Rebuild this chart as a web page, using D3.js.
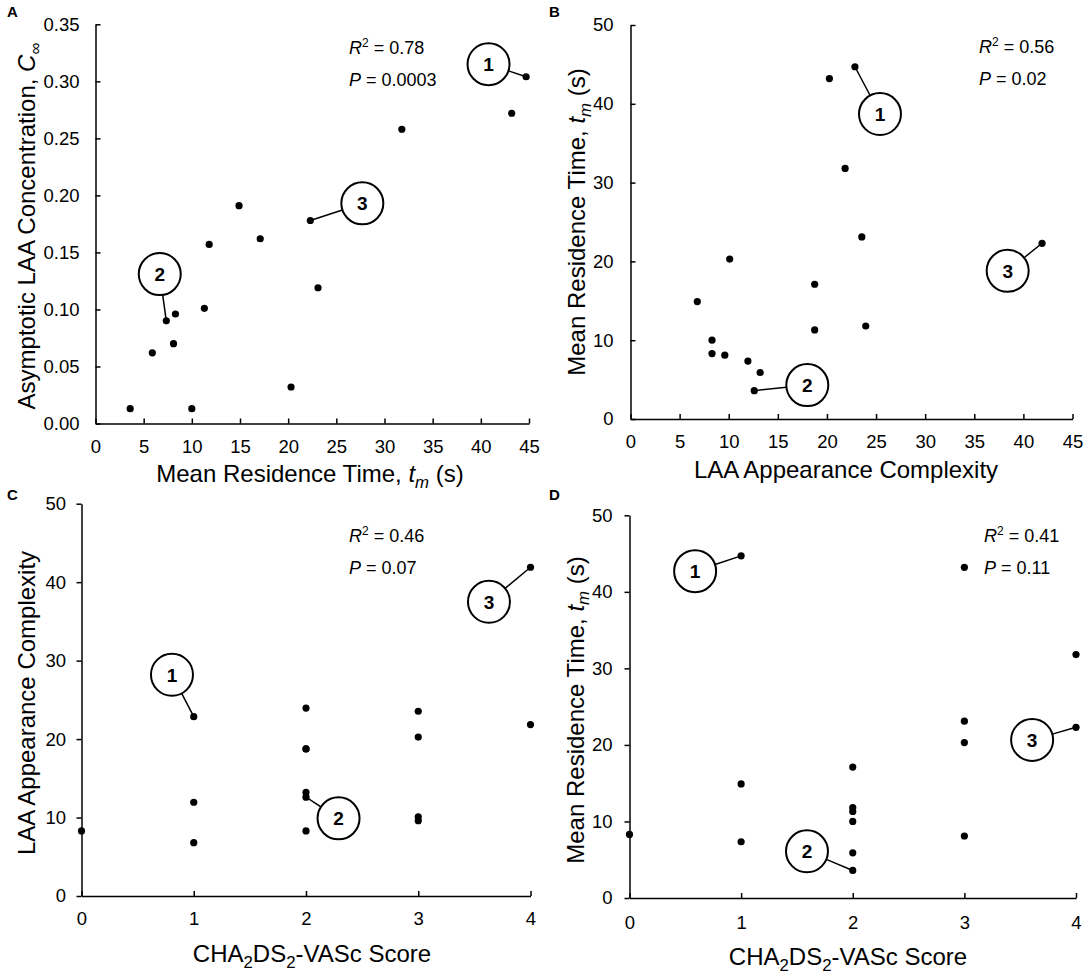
<!DOCTYPE html>
<html>
<head>
<meta charset="utf-8">
<script src="https://cdn.jsdelivr.net/npm/d3@7"></script>
<style>
  body { margin: 0; background: #fff; }
  svg { display: block; font-family: "Liberation Sans", Arial, sans-serif; }
  .axis path, .axis line { stroke: #000; stroke-width: 1.5px; }
  .axis text { font-size: 18.5px; fill: #000; font-family: "Liberation Sans", Arial, sans-serif; }
</style>
</head>
<body>
<script>

// one entry per patient (16 patients)
var meanResidence  = [14.9, 10.0, 8.3, 8.1, 20.3, 7.35, 5.9, 3.6, 17.1, 11.3, 43.2, 31.8, 44.7, 23.1, 11.8, 22.3];
var asymptoticConc = [0.191, 0.013, 0.096, 0.070, 0.032, 0.090, 0.062, 0.013, 0.162, 0.101, 0.272, 0.258, 0.304, 0.119, 0.157, 0.178];
var complexity     = [6.8, 8.3, 8.3, 9.6, 10.1, 11.95, 13.2, 12.6, 18.75, 18.75, 20.25, 21.85, 22.85, 23.55, 23.95, 41.9];
var chadsScore     = [1, 2, 0, 3, 3, 1, 2, 2, 2, 2, 3, 4, 1, 3, 2, 4];

// tick labels
var tmTicks    = [0, 5, 10, 15, 20, 25, 30, 35, 40, 45];
var concTicks  = [0, 0.05, 0.10, 0.15, 0.20, 0.25, 0.30, 0.35];
var fiftyTicks = [0, 10, 20, 30, 40, 50];
var scoreTicks = [0, 1, 2, 3, 4];

// R^2 and P for each panel
var rSquared = ["0.78", "0.56", "0.46", "0.41"];
var pValues  = ["0.0003", "0.02", "0.07", "0.11"];

// numbered callouts: patient index it points at, circle centre in data units
var calloutsA = [{n: "1", p: 12, cx: 40.8, cy: 0.315}, {n: "2", p: 5, cx: 6.67, cy: 0.131}, {n: "3", p: 15, cx: 27.7, cy: 0.193}];
var calloutsB = [{n: "1", p: 12, cx: 25.4, cy: 38.7}, {n: "2", p: 7, cx: 18.0, cy: 4.3}, {n: "3", p: 15, cx: 38.4, cy: 18.8}];
var calloutsC = [{n: "1", p: 12, cx: 0.806, cy: 28.2}, {n: "2", p: 7, cx: 2.29, cy: 9.9}, {n: "3", p: 15, cx: 3.63, cy: 37.5}];
var calloutsD = [{n: "1", p: 12, cx: 0.588, cy: 42.7}, {n: "2", p: 7, cx: 1.59, cy: 6.1}, {n: "3", p: 15, cx: 3.607, cy: 20.65}];

// axis titles as [text, flags] pieces (i = italic, s = subscript)
var tmTitle    = [["Mean Residence Time, "], ["t", "i"], ["m", "is"], [" (s)"]];
var concTitle  = [["Asymptotic LAA Concentration, "], ["C", "i"], ["\u221E", "s"]];
var compTitle  = [["LAA Appearance Complexity"]];
var scoreTitle = [["CHA"], ["2", "s"], ["DS"], ["2", "s"], ["-VASc Score"]];

var svg = d3.select("body").append("svg")
    .attr("width", 1084)
    .attr("height", 975);

// writes pieces with italic / subscript into a text element
function richText(sel, parts, size) {
    var shift = 0;
    parts.forEach(function(part) {
        var flags = part[1] || "";
        var t = sel.append("tspan").text(part[0]);
        if (flags.indexOf("i") >= 0) t.attr("font-style", "italic");
        var target = 0;
        if (flags.indexOf("s") >= 0) {
            t.attr("font-size", size * 0.7);
            target = size * 0.24;
        }
        if (target - shift !== 0) t.attr("dy", target - shift);
        shift = target;
    });
}

function drawPanel(p, i) {
    var xScale = d3.scaleLinear().domain(p.xDomain).range([p.left, p.right]);
    var yScale = d3.scaleLinear().domain(p.yDomain).range([p.bottom, p.top]);
    var g = svg.append("g");

    var xAxis = d3.axisBottom(xScale)
        .tickValues(p.xTicks)
        .tickSizeInner(-5)
        .tickSizeOuter(0)
        .tickPadding(p.xPad)
        .tickFormat(d3.format("d"));
    g.append("g")
        .attr("class", "axis")
        .attr("transform", "translate(0," + p.bottom + ")")
        .call(xAxis);

    var yAxis = d3.axisLeft(yScale)
        .tickValues(p.yTicks)
        .tickSizeInner(p.yTick)
        .tickSizeOuter(0)
        .tickPadding(p.yPad)
        .tickFormat(d3.format(p.yFormat));
    g.append("g")
        .attr("class", "axis")
        .attr("transform", "translate(" + p.left + ",0)")
        .call(yAxis);

    // axis titles
    var xt = g.append("text")
        .attr("x", p.xTitleX).attr("y", p.xTitleY)
        .attr("text-anchor", "middle")
        .attr("font-size", 24);
    richText(xt, p.xTitle, 24);

    var yt = g.append("text")
        .attr("transform", "translate(" + p.yTitleX + "," + p.yTitleY + ") rotate(-90)")
        .attr("text-anchor", "middle")
        .attr("font-size", 24);
    richText(yt, p.yTitle, 24);

    // panel letter
    g.append("text")
        .attr("x", p.labelX).attr("y", p.labelY)
        .attr("font-size", 15).attr("font-weight", "bold")
        .text(p.id);

    // statistics
    var r = g.append("text").attr("x", p.statX).attr("y", p.statY).attr("font-size", 18);
    r.append("tspan").attr("font-style", "italic").text("R");
    r.append("tspan").attr("font-size", 12).attr("dy", -7).text("2");
    r.append("tspan").attr("dy", 7).text(" = " + rSquared[i]);
    var pt = g.append("text").attr("x", p.statX).attr("y", p.statY + 32).attr("font-size", 18);
    pt.append("tspan").attr("font-style", "italic").text("P");
    pt.append("tspan").text(" = " + pValues[i]);

    // callouts
    var radius = 21;
    p.callouts.forEach(function(c) {
        var px = xScale(p.xValues[c.p]), py = yScale(p.yValues[c.p]);
        var cx = xScale(c.cx), cy = yScale(c.cy);
        var dx = px - cx, dy = py - cy, len = Math.sqrt(dx * dx + dy * dy);
        g.append("line")
            .attr("x1", px).attr("y1", py)
            .attr("x2", cx + dx / len * radius).attr("y2", cy + dy / len * radius)
            .attr("stroke", "#000").attr("stroke-width", 1.5);
        g.append("circle")
            .attr("cx", cx).attr("cy", cy).attr("r", radius)
            .attr("fill", "#fff").attr("stroke", "#000").attr("stroke-width", 2);
        g.append("text")
            .attr("x", cx).attr("y", cy).attr("dy", "0.36em")
            .attr("text-anchor", "middle")
            .attr("font-size", 19).attr("font-weight", "bold")
            .text(c.n);
    });

    // data points
    g.append("g").selectAll("circle")
        .data(d3.range(p.xValues.length))
        .enter()
        .append("circle")
        .attr("cx", function(d) { return xScale(p.xValues[d]); })
        .attr("cy", function(d) { return yScale(p.yValues[d]); })
        .attr("r", 3.6)
        .attr("fill", "#000");
}

var panels = [
    {id: "A", xValues: meanResidence, yValues: asymptoticConc,
     xDomain: [0, 45], yDomain: [0, 0.35], xTicks: tmTicks, yTicks: concTicks, yFormat: ".2f",
     left: 95.5, right: 529, top: 24.3, bottom: 423.5, yTick: -5, yPad: 16, xPad: 16.5,
     xTitle: tmTitle, yTitle: concTitle, xTitleX: 310, xTitleY: 482, yTitleX: 35, yTitleY: 226,
     labelX: 7, labelY: 17, statX: 349, statY: 54, callouts: calloutsA},
    {id: "B", xValues: complexity, yValues: meanResidence,
     xDomain: [0, 45], yDomain: [0, 50], xTicks: tmTicks, yTicks: fiftyTicks, yFormat: "d",
     left: 630.5, right: 1072.5, top: 25, bottom: 419, yTick: -5, yPad: 17, xPad: 16,
     xTitle: compTitle, yTitle: tmTitle, xTitleX: 846, xTitleY: 478, yTitleX: 585, yTitleY: 222,
     labelX: 549, labelY: 17, statX: 979, statY: 53, callouts: calloutsB},
    {id: "C", xValues: chadsScore, yValues: complexity,
     xDomain: [0, 4], yDomain: [0, 50], xTicks: scoreTicks, yTicks: fiftyTicks, yFormat: "d",
     left: 81.5, right: 530.5, top: 503.7, bottom: 896, yTick: 5, yPad: 10.5, xPad: 15.5,
     xTitle: scoreTitle, yTitle: compTitle, xTitleX: 312, xTitleY: 962, yTitleX: 35, yTitleY: 703,
     labelX: 7, labelY: 500, statX: 349, statY: 542, callouts: calloutsC},
    {id: "D", xValues: chadsScore, yValues: meanResidence,
     xDomain: [0, 4], yDomain: [0, 50], xTicks: scoreTicks, yTicks: fiftyTicks, yFormat: "d",
     left: 629.5, right: 1076, top: 515.3, bottom: 898, yTick: 5, yPad: 12, xPad: 17.5,
     xTitle: scoreTitle, yTitle: tmTitle, xTitleX: 848, xTitleY: 965, yTitleX: 583.5, yTitleY: 710,
     labelX: 549, labelY: 500, statX: 984, statY: 542, callouts: calloutsD}
];

panels.forEach(drawPanel);

</script>
</body>
</html>
